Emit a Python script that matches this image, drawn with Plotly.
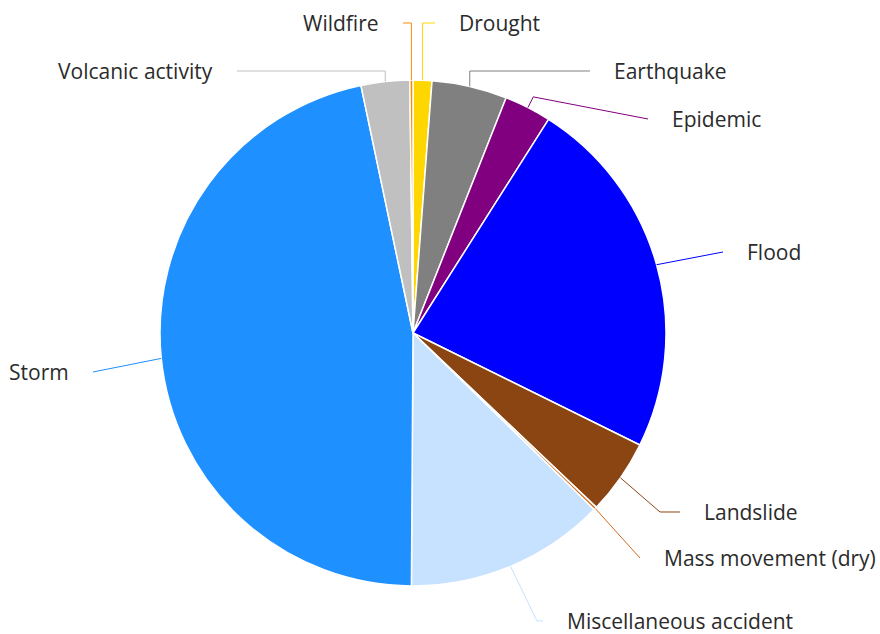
import math
import plotly.graph_objects as go

# ---- data ----
categories = ["Drought", "Earthquake", "Epidemic", "Flood", "Landslide",
              "Mass movement (dry)", "Miscellaneous accident", "Storm",
              "Volcanic activity", "Wildfire"]
values = [1.2, 4.8, 3.0, 23.3, 4.8, 0.2, 12.8, 46.6, 3.1, 0.2]

# ---- styles ----
colors = ["#FFD700", "#808080", "#800080", "#0000FF", "#8B4513",
          "#D2691E", "#C6E2FF", "#1E90FF", "#C0C0C0", "#FF8C00"]

W, H = 880, 634
CX, CY, R = 413, 333, 253  # pie centre and radius in pixels

# label layout: connector end point (px), side, connector shape
label_layout = {
    "Drought": (435, 23, "right", "v"),
    "Earthquake": (590, 71, "right", "v"),
    "Epidemic": (648, 119, "right", "r"),
    "Flood": (723, 252, "right", "s"),
    "Landslide": (680, 512, "right", "h"),
    "Mass movement (dry)": (640, 558, "right", "s"),
    "Miscellaneous accident": (543, 621, "right", "h6"),
    "Storm": (93, 372, "left", "s"),
    "Volcanic activity": (237, 71, "left", "v"),
    "Wildfire": (403, 23, "left", "v"),
}
GAP = 22


def px(x):
    return x / W


def py(y):
    return 1 - y / H


fig = go.Figure(go.Pie(
    labels=categories, values=values, sort=False, direction="clockwise",
    rotation=0, textinfo="none", hoverinfo="label+percent",
    marker=dict(colors=colors, line=dict(color="white", width=1.5)),
    domain=dict(x=[px(CX - R), px(CX + R)], y=[py(CY + R), py(CY - R)]),
    showlegend=False,
))

total = sum(values)
cum = 0.0
shapes, annotations = [], []
for name, v, col in zip(categories, values, colors):
    mid = (cum + v / 2) / total * 2 * math.pi
    cum += v
    sx, sy = CX + R * math.sin(mid), CY - R * math.cos(mid)
    ex, ey, side, mode = label_layout[name]
    sgn = 1 if side == "right" else -1
    pts = [(sx, sy)]
    if mode == "v":
        pts.append((sx, ey))
    elif mode == "r":
        pts.append((sx + 12 * math.sin(mid), sy - 12 * math.cos(mid)))
    elif mode == "h":
        pts.append((ex - sgn * 20, ey))
    elif mode == "h6":
        pts.append((ex - sgn * 6, ey))
    pts.append((ex, ey))
    path = "M " + " L ".join(f"{px(x):.5f},{py(y):.5f}" for x, y in pts)
    shapes.append(dict(type="path", path=path, xref="paper", yref="paper",
                       line=dict(color=col, width=1)))
    annotations.append(dict(
        x=px(ex), y=py(ey), xref="paper", yref="paper", text=name,
        showarrow=False, xanchor="left" if side == "right" else "right",
        yanchor="middle", xshift=sgn * GAP,
        font=dict(family="Open Sans", size=21, color="#2b2b2b")))

fig.update_layout(
    width=W, height=H, margin=dict(l=0, r=0, t=0, b=0),
    paper_bgcolor="white", plot_bgcolor="white",
    shapes=shapes, annotations=annotations,
)

fig.write_html("out.html")
